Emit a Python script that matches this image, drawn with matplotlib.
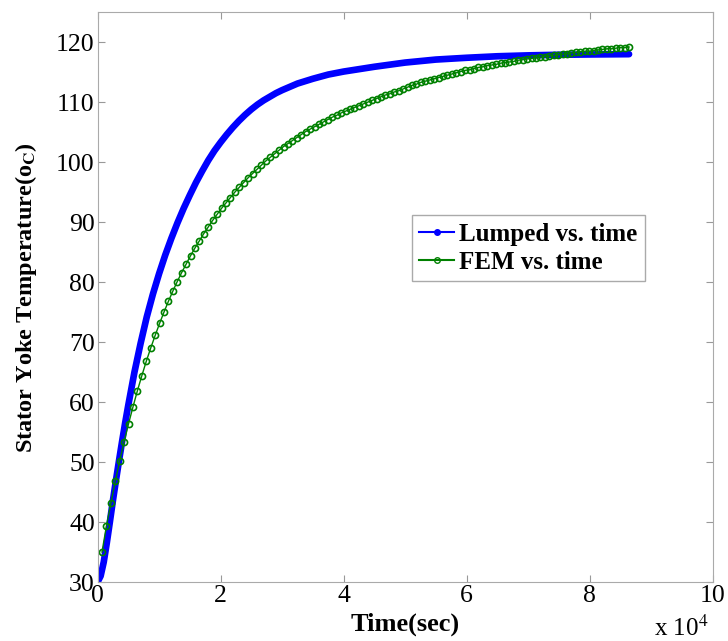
import matplotlib
matplotlib.use('Agg')
import matplotlib.pyplot as plt
from matplotlib.lines import Line2D
import numpy as np

plt.rcParams.update({'font.family': 'Liberation Serif', 'mathtext.fontset': 'stix', 'font.size': 14})

# lumped model (time in 1e4 s)
lumped_t = [0, 0.05, 0.1, 0.15, 0.2, 0.25, 0.3, 0.35, 0.4, 0.45, 0.5, 0.6, 0.7, 0.8,
            0.9, 1.0, 1.1, 1.2, 1.3, 1.4, 1.5, 1.6, 1.7, 1.8, 1.9, 2.0, 2.1, 2.2, 2.3,
            2.4, 2.5, 2.6, 2.7, 2.8, 2.9, 3.0, 3.25, 3.5, 3.75, 4.0, 4.5, 5.0, 5.5,
            6.0, 6.5, 7.0, 7.5, 8.0, 8.64]
lumped_temp = [30.0, 31.0, 33.3, 36.5, 40.0, 43.6, 47.0, 50.3, 53.5, 56.6, 59.5, 65.0,
               69.8, 74.2, 78.0, 81.4, 84.5, 87.3, 89.9, 92.3, 94.5, 96.6, 98.5, 100.3,
               101.9, 103.3, 104.6, 105.8, 106.9, 107.9, 108.8, 109.6, 110.3, 110.9,
               111.5, 112.0, 113.1, 113.9, 114.6, 115.1, 115.9, 116.6, 117.1, 117.4,
               117.65, 117.8, 117.9, 117.95, 118.0]

# FEM samples every 720 s
fem_time_sec = np.arange(720, 86401, 720)
fem_temp = [35.0, 39.3, 43.1, 46.8, 50.2, 53.4, 56.4, 59.2, 61.9, 64.4,
            66.8, 69.0, 71.1, 73.1, 75.0, 76.8, 78.5, 80.1, 81.6, 83.0,
            84.4, 85.7, 86.9, 88.1, 89.2, 90.3, 91.3, 92.3, 93.2, 94.1,
            95.0, 95.8, 96.6, 97.4, 98.1, 98.8, 99.5, 100.2, 100.8, 101.4,
            102.0, 102.6, 103.1, 103.6, 104.1, 104.6, 105.1, 105.5, 105.9, 106.3,
            106.7, 107.1, 107.5, 107.8, 108.2, 108.5, 108.8, 109.1, 109.4, 109.7,
            110.0, 110.3, 110.6, 110.9, 111.2, 111.4, 111.7, 111.9, 112.2, 112.5,
            112.8, 113.0, 113.3, 113.5, 113.7, 113.9, 114.1, 114.3, 114.5, 114.7,
            114.9, 115.1, 115.3, 115.4, 115.6, 115.8, 115.9, 116.1, 116.2, 116.3,
            116.5, 116.6, 116.7, 116.8, 117.0, 117.1, 117.2, 117.3, 117.4, 117.5,
            117.6, 117.7, 117.8, 117.9, 118.0, 118.1, 118.2, 118.3, 118.4, 118.5,
            118.5, 118.6, 118.7, 118.8, 118.9, 118.9, 119.0, 119.1, 119.1, 119.2]

blue = '#0000ff'
green = '#008000'

fig = plt.figure(figsize=(7.28, 6.41), dpi=100)
ax = fig.add_axes([0.134, 0.092, 0.845, 0.889])

ax.plot(lumped_t, lumped_temp, color=blue, lw=4.8, solid_capstyle='round',
        solid_joinstyle='round')
ax.plot(fem_time_sec / 1e4, fem_temp, color=green, lw=1, marker='o', ms=4.4,
        mfc='none', mew=1.2)

ax.set_xlim(0, 10)
ax.set_ylim(30, 125)
ax.set_xticks(range(0, 11, 2))
ax.set_yticks(range(30, 121, 10))
ax.tick_params(direction='in', length=5, top=True, right=True, color='#999999',
               labelsize=18.5, pad=2)
for s in ax.spines.values():
    s.set_color('#aaaaaa')

ax.set_xlabel('Time(sec)', fontsize=19, fontweight='bold', labelpad=4)
ax.set_ylabel(r'Stator Yoke Temperature(o$_{\mathbf{C}}$)', fontsize=17.5,
              fontweight='bold', labelpad=12)
fig.text(0.898, 0.0, r'x 10$^4$', fontsize=18, ha='left', va='bottom')

handles = [Line2D([], [], color=blue, lw=1.5, marker='.', ms=8),
           Line2D([], [], color=green, lw=1.5, marker='o', ms=4, mfc='none')]
leg = ax.legend(handles, ['Lumped vs. time', 'FEM vs. time'], loc='upper left',
                bbox_to_anchor=(0.511, 0.644), fancybox=False, framealpha=1,
                edgecolor='#aaaaaa', handlelength=1.4, handletextpad=0.2,
                borderpad=0.3, labelspacing=0.2, borderaxespad=0,
                prop={'family': 'Liberation Serif', 'weight': 'bold', 'size': 18})

fig.savefig('out.png', dpi=100)
